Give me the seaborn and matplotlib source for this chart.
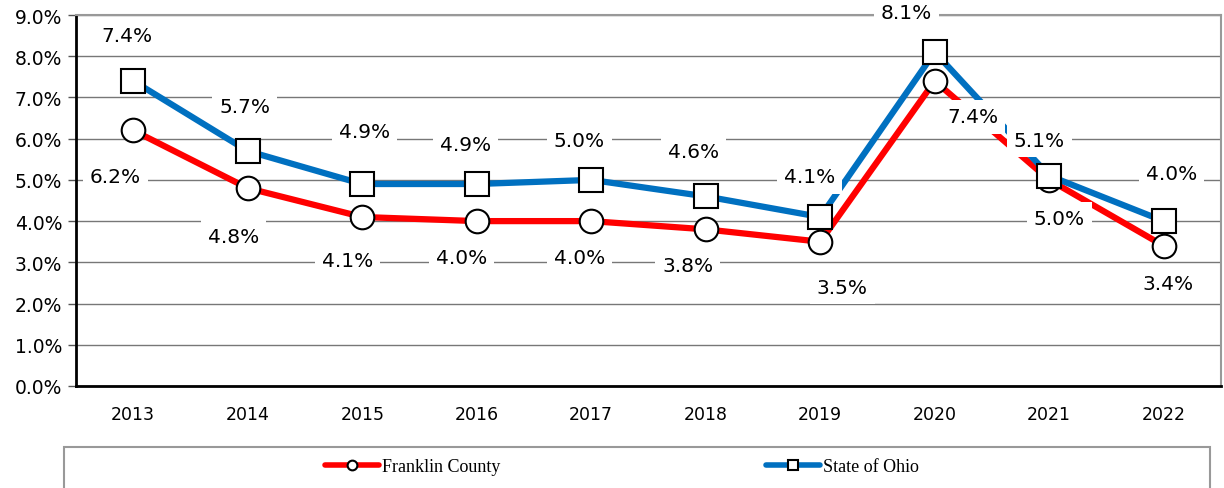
import numpy as np
import pandas as pd
import seaborn as sns
import matplotlib.pyplot as plt
from matplotlib.lines import Line2D
from matplotlib.patches import Rectangle

sns.set_style("white")
plt.rcParams['font.family'] = ['DejaVu Sans']
plt.rcParams['text.color'] = 'black'
plt.rcParams['xtick.labelcolor'] = 'black'
plt.rcParams['ytick.labelcolor'] = 'black'

## DATA
years = ['2013', '2014', '2015', '2016', '2017', '2018', '2019', '2020', '2021', '2022']
franklin = [6.2, 4.8, 4.1, 4.0, 4.0, 3.8, 3.5, 7.4, 5.0, 3.4]
ohio = [7.4, 5.7, 4.9, 4.9, 5.0, 4.6, 4.1, 8.1, 5.1, 4.0]

# label offsets (pixels, from point to label centre)
ohio_off = [(-6, -45), (-3, -45), (2, -53), (-11, -40), (-12, -39),
            (-12, -45), (-11, -40), (-28, -40), (-10, -35), (8, -48)]
frank_off = [(-18, 46), (-14, 48), (-15, 44), (-15, 36), (-12, 36),
             (-18, 36), (22, 46), (38, 36), (10, 39), (4, 38)]

df = pd.DataFrame({'x': np.arange(len(years)), 'Franklin County': franklin, 'State of Ohio': ohio})

fig = plt.figure(figsize=(12.24, 4.89), dpi=100)
ax = fig.add_axes([76/1224, 1-387/489, (1221-76)/1224, (387-16)/489])

sns.lineplot(data=df, x='x', y='Franklin County', ax=ax, color='#ff0000', lw=4.5,
             marker='o', markersize=17, markerfacecolor='white', markeredgecolor='black',
             markeredgewidth=1.5, zorder=3)
sns.lineplot(data=df, x='x', y='State of Ohio', ax=ax, color='#0070c0', lw=4.5,
             marker='s', markersize=17, markerfacecolor='white', markeredgecolor='black',
             markeredgewidth=1.5, zorder=4)

box = dict(boxstyle='square,pad=0.35', fc='white', ec='none')
for i in range(len(years)):
    ax.annotate(f'{ohio[i]:.1f}%', (i, ohio[i]), xytext=(ohio_off[i][0]*0.72, -ohio_off[i][1]*0.72),
                textcoords='offset points', ha='center', va='center', fontsize=14.5,
                bbox=box, zorder=6, annotation_clip=False)
    ax.annotate(f'{franklin[i]:.1f}%', (i, franklin[i]), xytext=(frank_off[i][0]*0.72, -frank_off[i][1]*0.72),
                textcoords='offset points', ha='center', va='center', fontsize=14.5,
                bbox=box, zorder=6, annotation_clip=False)

ax.set_xlim(-0.5, len(years) - 0.5)
ax.set_ylim(0, 9)
ax.set_yticks(np.arange(0, 10, 1))
ax.set_yticklabels([f'{v:.1f}%' for v in np.arange(0, 10, 1)], fontsize=13.5)
ax.set_xticks(np.arange(len(years)))
ax.set_xticklabels(years, fontsize=12.5)
ax.set_xticks(np.arange(-0.5, len(years), 1), minor=True)
ax.tick_params(axis='x', which='major', length=0, pad=14)
ax.tick_params(axis='x', which='minor', length=7, width=1, color='#555555', direction='out')
ax.tick_params(axis='y', length=6, width=1, color='#555555', direction='out', pad=4, left=True)
ax.set_xlabel('')
ax.set_ylabel('')
ax.grid(axis='y', color='#777777', lw=1)
ax.set_axisbelow(True)
for s in ['top', 'right']:
    ax.spines[s].set_color('#999999')
    ax.spines[s].set_linewidth(1.5)
ax.spines['left'].set_color('black')
ax.spines['left'].set_linewidth(2)
ax.spines['bottom'].set_color('black')
ax.spines['bottom'].set_linewidth(2)

# legend box
fig.patches.append(Rectangle((64/1224, -0.05), (1210-64)/1224, 0.05 + 1 - 448/489,
                             transform=fig.transFigure, fc='white', ec='#999999', lw=1.5))
handles = [Line2D([], [], color='#ff0000', lw=4, marker='o', markersize=7,
                  markerfacecolor='white', markeredgecolor='black', markeredgewidth=1.5),
           Line2D([], [], color='#0070c0', lw=4, marker='s', markersize=7,
                  markerfacecolor='white', markeredgecolor='black', markeredgewidth=1.5)]
fig.legend(handles, ['Franklin County', 'State of Ohio'], loc='center left', ncol=2,
           bbox_to_anchor=(325/1224, 1 - 468/489), frameon=False, columnspacing=14.7,
           handlelength=3.0, handletextpad=0.15, borderaxespad=0, borderpad=0,
           prop={'family': 'Liberation Serif', 'size': 13})

fig.savefig('out.png', dpi=100)
